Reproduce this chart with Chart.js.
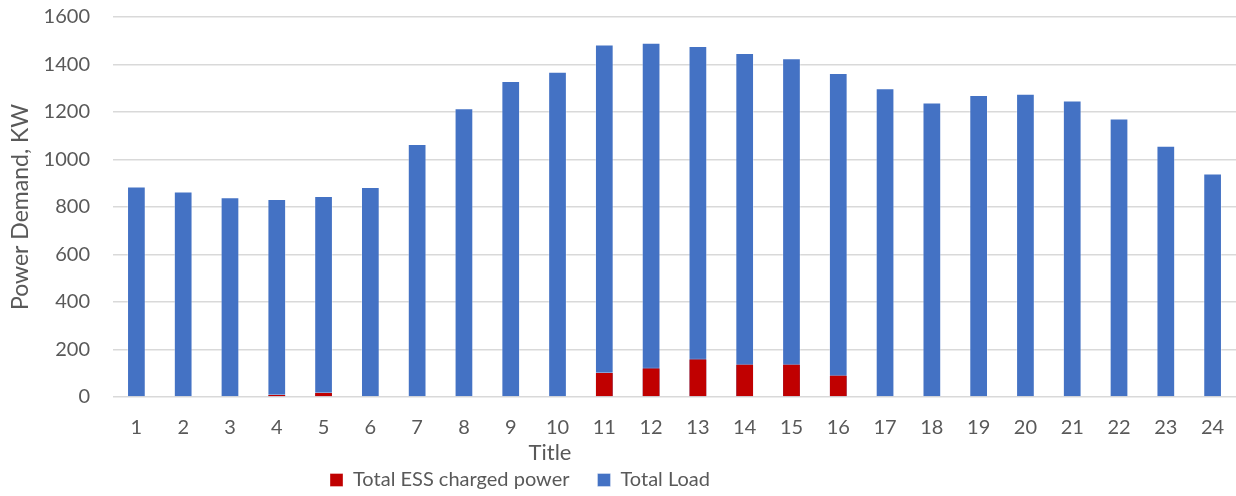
<!DOCTYPE html>
<html>
<head>
<meta charset="utf-8">
<script src="https://cdn.jsdelivr.net/npm/chart.js@4.4.1/dist/chart.umd.min.js"></script>
<style>
  html, body { margin: 0; padding: 0; background: #fff; }
  #wrap { width: 1236px; height: 496px; position: relative; }
</style>
</head>
<body>
<div id="wrap"><canvas id="chart"></canvas></div>
<script>
const hours = ["1","2","3","4","5","6","7","8","9","10","11","12","13","14","15","16","17","18","19","20","21","22","23","24"];
const essCharged = [0, 0, 0, 13, 21, 0, 0, 0, 0, 0, 105, 124, 162, 140, 140, 94, 0, 0, 0, 0, 0, 0, 0, 0];
const totalLoad = [886, 865, 841, 834, 846, 884, 1065, 1216, 1331, 1370, 1484, 1492, 1478, 1448, 1426, 1364, 1300, 1240, 1272, 1277, 1248, 1173, 1058, 941];
const yTicks = [0, 200, 400, 600, 800, 1000, 1200, 1400, 1600];
const xTitle = "Title";
const yTitle = "Power Demand, KW";

const font = "Lato, 'Open Sans', sans-serif";
const grey = "#595959";

// excel puts the axis title and legend left of the plot centre, so draw/shift them by hand
const bottomText = {
    id: "bottomText",
    afterLayout(chart) {
        chart.legend.left = 302;
    },
    afterDraw(chart) {
        const c = chart.ctx;
        c.save();
        c.font = "22px " + font;
        c.fillStyle = grey;
        c.textAlign = "center";
        c.textBaseline = "middle";
        c.fillText(xTitle, 550, 453);
        c.restore();
    }
};

const ctx = document.getElementById("chart").getContext("2d");
new Chart(ctx, {
    type: "bar",
    data: {
        labels: hours,
        datasets: [
            {
                label: "Total ESS charged power",
                data: essCharged,
                backgroundColor: "#C00000",
                borderColor: "rgba(255,255,255,0.35)",
                borderWidth: 1,
                barPercentage: 0.4,
                categoryPercentage: 1
            },
            {
                label: "Total Load",
                data: totalLoad,
                backgroundColor: "#4472C4",
                borderColor: "rgba(255,255,255,0.35)",
                borderWidth: 1,
                barPercentage: 0.4,
                categoryPercentage: 1
            }
        ]
    },
    plugins: [bottomText],
    options: {
        responsive: true,
        maintainAspectRatio: false,
        animation: false,
        layout: { padding: { top: 0, right: 0, left: 0, bottom: -4 } },
        plugins: {
            legend: {
                position: "bottom",
                align: "start",
                labels: {
                    font: { family: font, size: 20 },
                    color: grey,
                    boxWidth: 13,
                    boxHeight: 13,
                    padding: 28
                }
            },
            tooltip: { enabled: false }
        },
        scales: {
            x: {
                stacked: true,
                grid: { display: false, drawTicks: false },
                border: { display: false },
                ticks: { font: { family: font, size: 20 }, color: grey, padding: 19 },
                afterFit: function(scale) {
                    scale.height = 45;
                    scale.paddingLeft = 0;
                    scale.paddingRight = 0;
                }
            },
            y: {
                stacked: false,
                min: 0,
                max: 1600,
                afterBuildTicks: function(axis) {
                    axis.ticks = yTicks.map(v => ({ value: v }));
                },
                afterFit: function(scale) {
                    scale.width = 113;
                    scale.paddingTop = 17;
                },
                grid: { color: "#d9d9d9", lineWidth: 1.5, drawTicks: false },
                border: { display: false },
                ticks: {
                    font: { family: font, size: 20 },
                    color: grey,
                    padding: 23,
                    callback: function(v) { return String(v); }
                },
                title: {
                    display: true,
                    text: yTitle,
                    font: { family: font, size: 23 },
                    color: grey,
                    padding: { top: 7, bottom: 0 }
                }
            }
        }
    }
});
</script>
</body>
</html>
